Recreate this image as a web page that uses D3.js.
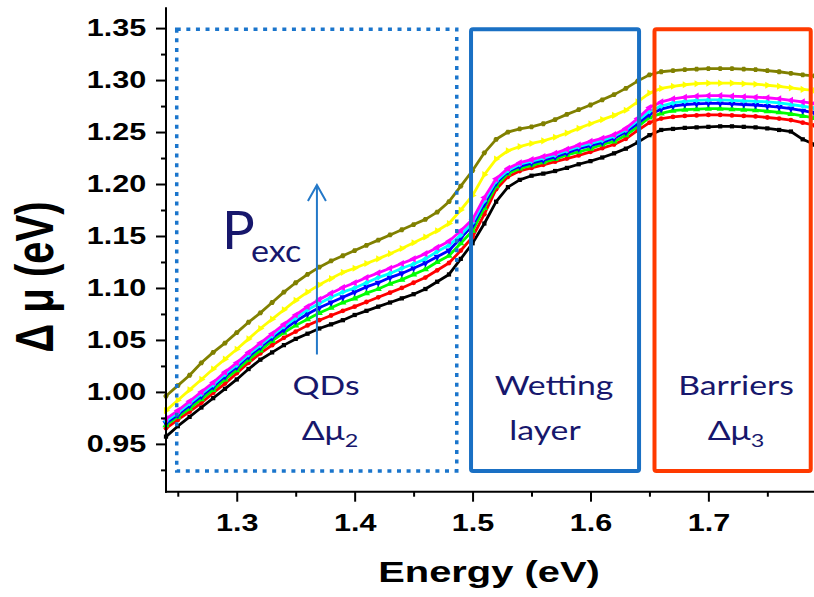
<!DOCTYPE html>
<html>
<head>
<meta charset="utf-8">
<script src="https://cdn.jsdelivr.net/npm/d3@7"></script>
<style>
  html, body { margin: 0; padding: 0; background: #fff; }
  svg { display: block; }
</style>
</head>
<body>
<svg id="chart" width="814" height="597"></svg>
<script>
// ---------------- data ----------------
const energy = [1.24,1.25,1.26,1.27,1.28,1.29,1.30,1.31,1.32,1.33,
                1.34,1.35,1.36,1.37,1.38,1.39,1.40,1.41,1.42,1.43,
                1.44,1.45,1.46,1.47,1.48,1.49,1.50,1.51,1.52,1.53,
                1.54,1.55,1.56,1.57,1.58,1.59,1.60,1.61,1.62,1.63,
                1.64,1.65,1.66,1.67,1.68,1.69,1.70,1.71,1.72,1.73,
                1.74,1.75,1.76,1.77,1.78,1.79];

const black = [0.957,0.967,0.976,0.985,0.994,1.003,1.012,1.022,1.031,1.038,
               1.045,1.051,1.056,1.061,1.065,1.069,1.074,1.078,1.082,1.086,
               1.090,1.094,1.099,1.106,1.113,1.128,1.143,1.162,1.183,1.197,
               1.204,1.208,1.210,1.2125,1.2155,1.219,1.222,1.2255,1.2295,1.234,
               1.240,1.247,1.252,1.253,1.254,1.2545,1.255,1.2555,1.2555,1.255,
               1.2545,1.2535,1.252,1.2505,1.243,1.238];
const red = [0.965,0.973,0.981,0.9895,0.999,1.008,1.018,1.028,1.037,1.045,
             1.052,1.058,1.064,1.069,1.0735,1.078,1.082,1.0865,1.091,1.0955,
             1.100,1.105,1.110,1.117,1.124,1.136,1.149,1.171,1.195,1.207,
             1.2125,1.2155,1.2185,1.2215,1.2245,1.2275,1.231,1.2345,1.238,1.2435,
             1.2515,1.259,1.263,1.2645,1.2655,1.266,1.2665,1.2665,1.266,1.2655,
             1.265,1.264,1.263,1.2615,1.259,1.2565];
const green = [0.968,0.976,0.984,0.993,1.002,1.012,1.021,1.031,1.040,1.049,
               1.057,1.064,1.070,1.076,1.081,1.086,1.090,1.095,1.099,1.104,
               1.108,1.113,1.118,1.125,1.131,1.143,1.155,1.177,1.198,1.210,
               1.215,1.218,1.221,1.224,1.228,1.231,1.234,1.238,1.241,1.247,
               1.255,1.264,1.268,1.2705,1.2715,1.272,1.2725,1.2725,1.272,1.2715,
               1.271,1.270,1.269,1.2675,1.2655,1.2635];
const blue = [0.970,0.978,0.987,0.996,1.005,1.015,1.024,1.034,1.043,1.052,
              1.060,1.068,1.075,1.081,1.086,1.091,1.096,1.101,1.105,1.110,
              1.114,1.119,1.124,1.130,1.136,1.148,1.160,1.181,1.201,1.212,
              1.217,1.220,1.223,1.226,1.230,1.234,1.237,1.240,1.244,1.250,
              1.258,1.267,1.272,1.275,1.2765,1.277,1.2775,1.2775,1.277,1.2765,
              1.276,1.275,1.274,1.2725,1.2705,1.2685];
const cyan = [0.972,0.980,0.989,0.998,1.007,1.017,1.026,1.036,1.045,1.054,
              1.063,1.071,1.079,1.085,1.091,1.096,1.100,1.105,1.110,1.114,
              1.119,1.123,1.128,1.135,1.141,1.151,1.163,1.184,1.203,1.213,
              1.219,1.222,1.225,1.228,1.232,1.236,1.239,1.242,1.246,1.252,
              1.261,1.270,1.275,1.278,1.2795,1.2805,1.281,1.281,1.2805,1.280,
              1.2795,1.279,1.278,1.2765,1.275,1.273];
const magenta = [0.974,0.982,0.991,1.000,1.009,1.019,1.028,1.038,1.047,1.056,
                 1.065,1.074,1.082,1.089,1.095,1.1005,1.105,1.110,1.1145,1.119,
                 1.1235,1.128,1.133,1.139,1.145,1.155,1.166,1.187,1.205,1.215,
                 1.2205,1.2235,1.2265,1.2295,1.2335,1.2375,1.241,1.244,1.2475,1.2535,
                 1.263,1.2735,1.279,1.282,1.2835,1.2845,1.285,1.285,1.2845,1.284,
                 1.2835,1.283,1.282,1.2805,1.279,1.2775];
const yellow = [0.982,0.992,1.002,1.012,1.022,1.0315,1.041,1.051,1.061,1.070,
                1.079,1.088,1.096,1.103,1.109,1.115,1.119,1.1235,1.128,1.133,
                1.138,1.1435,1.149,1.155,1.162,1.175,1.189,1.209,1.224,1.232,
                1.236,1.239,1.2415,1.245,1.249,1.2535,1.258,1.262,1.266,1.271,
                1.279,1.2875,1.292,1.294,1.2955,1.2965,1.297,1.297,1.297,1.2965,
                1.296,1.295,1.294,1.2925,1.291,1.290];
const olive = [0.996,1.006,1.016,1.028,1.038,1.047,1.057,1.067,1.076,1.086,
               1.096,1.105,1.113,1.120,1.126,1.131,1.136,1.141,1.146,1.151,
               1.156,1.161,1.166,1.173,1.183,1.198,1.213,1.230,1.243,1.250,
               1.253,1.255,1.258,1.262,1.267,1.2715,1.276,1.281,1.286,1.292,
               1.299,1.305,1.308,1.309,1.310,1.3105,1.311,1.311,1.311,1.3105,
               1.310,1.309,1.308,1.3065,1.305,1.304];

const xMajorTicks = [1.3, 1.4, 1.5, 1.6, 1.7];
const xMinorTicks = [1.25, 1.35, 1.45, 1.55, 1.65, 1.75];
const yMajorTicks = [0.95, 1.00, 1.05, 1.10, 1.15, 1.20, 1.25, 1.30, 1.35];
const yMinorTicks = [0.925, 0.975, 1.025, 1.075, 1.125, 1.175, 1.225, 1.275, 1.325];

// ---------------- styling / layout ----------------
const seriesList = [
  {values: black,   color: "#000000", shape: "square"},
  {values: red,     color: "#ff0000", shape: "circle"},
  {values: green,   color: "#00ff00", shape: "up"},
  {values: blue,    color: "#0000ff", shape: "down"},
  {values: cyan,    color: "#00ffff", shape: "diamond"},
  {values: magenta, color: "#ff00ff", shape: "left"},
  {values: yellow,  color: "#ffff00", shape: "right"},
  {values: olive,   color: "#808000", shape: "hex"}
];

const svg = d3.select("#chart");
const W = 814, H = 597;
const x = d3.scaleLinear().domain([1.24, 1.79]).range([166, 814.5]);
const y = d3.scaleLinear().domain([0.904, 1.37]).range([491.7, 7.3]);
const SX = 1.33; // horizontal stretch of the original raster text

const axisFont = "'Liberation Sans', Arial, sans-serif";
const annFont = "Lato, 'Open Sans', sans-serif";
const navy = "#17176c";

// ---------------- curves ----------------
const hexagon = {
  draw(ctx, size) {
    const r = Math.sqrt(size / 2.598);
    for (let i = 0; i < 6; i++) {
      const a = Math.PI / 3 * i;
      const px = r * Math.cos(a), py = r * Math.sin(a);
      if (i === 0) ctx.moveTo(px, py); else ctx.lineTo(px, py);
    }
    ctx.closePath();
  }
};
function symbolFor(shape) {
  switch (shape) {
    case "square": return {type: d3.symbolSquare, rot: 0, size: 18};
    case "circle": return {type: d3.symbolCircle, rot: 0, size: 18};
    case "up": return {type: d3.symbolTriangle, rot: 0, size: 22};
    case "down": return {type: d3.symbolTriangle, rot: 180, size: 22};
    case "diamond": return {type: d3.symbolSquare, rot: 45, size: 18};
    case "left": return {type: d3.symbolTriangle, rot: -90, size: 22};
    case "right": return {type: d3.symbolTriangle, rot: 90, size: 22};
    default: return {type: hexagon, rot: 0, size: 20};
  }
}

const plot = svg.append("g");
const line = d3.line().x((d, i) => x(energy[i])).y(d => y(d)).curve(d3.curveLinear);

seriesList.forEach(s => {
  const g = plot.append("g");
  g.append("path")
    .attr("d", line(s.values))
    .attr("fill", "none")
    .attr("stroke", s.color)
    .attr("stroke-width", 2.8)
    .attr("stroke-linejoin", "round");
  const sym = symbolFor(s.shape);
  const path = d3.symbol().type(sym.type).size(sym.size)();
  g.selectAll("path.m").data(s.values).enter().append("path")
    .attr("class", "m")
    .attr("d", path)
    .attr("transform", (d, i) => `translate(${x(energy[i])},${y(d)}) rotate(${sym.rot})`)
    .attr("fill", s.color)
    .attr("stroke", "none");
});

// ---------------- axes ----------------
const yAxis = d3.axisLeft(y).tickValues(yMajorTicks).tickSize(10).tickSizeOuter(0)
  .tickFormat(d3.format(".2f"));
const gy = svg.append("g").attr("transform", `translate(${x(1.24)},0)`).call(yAxis);
gy.select(".domain").remove();
gy.selectAll(".tick line").attr("stroke", "#000").attr("stroke-width", 2);
gy.selectAll(".tick text")
  .attr("x", -14.8)
  .attr("transform", `scale(${SX},1)`)
  .attr("fill", "#000")
  .style("font-family", axisFont).style("font-weight", "bold").style("font-size", "23px");
const yMinor = d3.axisLeft(y).tickValues(yMinorTicks).tickSize(5).tickSizeOuter(0).tickFormat("");
const gym = svg.append("g").attr("transform", `translate(${x(1.24)},0)`).call(yMinor);
gym.select(".domain").remove();
gym.selectAll(".tick line").attr("stroke", "#000").attr("stroke-width", 2);

const xAxis = d3.axisBottom(x).tickValues(xMajorTicks).tickSize(10).tickSizeOuter(0)
  .tickFormat(d3.format(".1f"));
const gx = svg.append("g").attr("transform", `translate(0,${y(0.904)})`).call(xAxis);
gx.select(".domain").remove();
gx.selectAll(".tick line").attr("stroke", "#000").attr("stroke-width", 2);
gx.selectAll(".tick text")
  .attr("y", 23.2)
  .attr("transform", `scale(${SX},1)`)
  .attr("fill", "#000")
  .style("font-family", axisFont).style("font-weight", "bold").style("font-size", "23px");
const xMinor = d3.axisBottom(x).tickValues(xMinorTicks).tickSize(5).tickSizeOuter(0).tickFormat("");
const gxm = svg.append("g").attr("transform", `translate(0,${y(0.904)})`).call(xMinor);
gxm.select(".domain").remove();
gxm.selectAll(".tick line").attr("stroke", "#000").attr("stroke-width", 2);

// axis lines
svg.append("line").attr("x1", x(1.24)).attr("x2", x(1.24))
  .attr("y1", y(1.37)).attr("y2", y(0.904) + 1)
  .attr("stroke", "#000").attr("stroke-width", 2);
svg.append("line").attr("x1", x(1.24) - 1).attr("x2", W)
  .attr("y1", y(0.904)).attr("y2", y(0.904))
  .attr("stroke", "#000").attr("stroke-width", 2);

// axis titles
svg.append("text")
  .attr("transform", `translate(53,277) scale(${SX},1) rotate(-90)`)
  .attr("text-anchor", "middle")
  .style("font-family", axisFont).style("font-weight", "bold").style("font-size", "40px")
  .text("\u0394 \u03bc (eV)");
svg.append("text")
  .attr("transform", `translate(489,582) scale(${SX},1)`)
  .attr("text-anchor", "middle")
  .style("font-family", axisFont).style("font-weight", "bold").style("font-size", "30px")
  .text("Energy (eV)");

// ---------------- region boxes ----------------
const boxTop = 1.349, boxBottom = 0.924;
svg.append("rect")
  .attr("x", x(1.2491)).attr("y", y(boxTop))
  .attr("width", x(1.4866) - x(1.2491)).attr("height", y(boxBottom) - y(boxTop))
  .attr("fill", "none").attr("stroke", "#1a75cc").attr("stroke-width", 3.5)
  .attr("stroke-dasharray", "4,5.6");
svg.append("rect")
  .attr("x", x(1.4987)).attr("y", y(boxTop))
  .attr("width", x(1.6412) - x(1.4987)).attr("height", y(boxBottom) - y(boxTop))
  .attr("rx", 2)
  .attr("fill", "none").attr("stroke", "#1a70c4").attr("stroke-width", 4);
svg.append("rect")
  .attr("x", x(1.6543)).attr("y", y(boxTop))
  .attr("width", x(1.7868) - x(1.6543)).attr("height", y(boxBottom) - y(boxTop))
  .attr("rx", 2)
  .attr("fill", "none").attr("stroke", "#ff3a00").attr("stroke-width", 4);

// ---------------- annotations ----------------
// P_exc arrow
const arrowX = x(1.368);
svg.append("line").attr("x1", arrowX).attr("x2", arrowX)
  .attr("y1", y(1.036)).attr("y2", y(1.199))
  .attr("stroke", "#2378c8").attr("stroke-width", 2);
svg.append("path")
  .attr("d", `M${arrowX - 9},${y(1.199) + 16} L${arrowX},${y(1.199)} L${arrowX + 9},${y(1.199) + 16}`)
  .attr("fill", "none").attr("stroke", "#2378c8").attr("stroke-width", 2);

function ann(txt, px, py, size, anchor, sx) {
  return svg.append("text")
    .attr("transform", `translate(${px},${py}) scale(${sx},1)`)
    .attr("text-anchor", anchor)
    .attr("fill", navy)
    .style("font-family", annFont).style("font-size", size + "px")
    .text(txt);
}
ann("P", 222, 249, 52, "start", 1.05);
ann("exc", 251, 262, 31, "start", 1.1);

ann("QDs", 326, 395, 26, "middle", 1.3);
const dm2 = svg.append("text")
  .attr("transform", `translate(330,440) scale(1.3,1)`)
  .attr("text-anchor", "middle").attr("fill", navy)
  .style("font-family", annFont).style("font-size", "26px");
dm2.append("tspan").text("\u0394\u03bc");
dm2.append("tspan").attr("dy", 7).style("font-size", "18px").text("2");

ann("Wetting", 554, 395, 26, "middle", 1.3);
ann("layer", 545, 440, 26, "middle", 1.3);

ann("Barriers", 736, 395, 26, "middle", 1.3);
const dm3 = svg.append("text")
  .attr("transform", `translate(736,440) scale(1.3,1)`)
  .attr("text-anchor", "middle").attr("fill", navy)
  .style("font-family", annFont).style("font-size", "26px");
dm3.append("tspan").text("\u0394\u03bc");
dm3.append("tspan").attr("dy", 7).style("font-size", "18px").text("3");
</script>
</body>
</html>
